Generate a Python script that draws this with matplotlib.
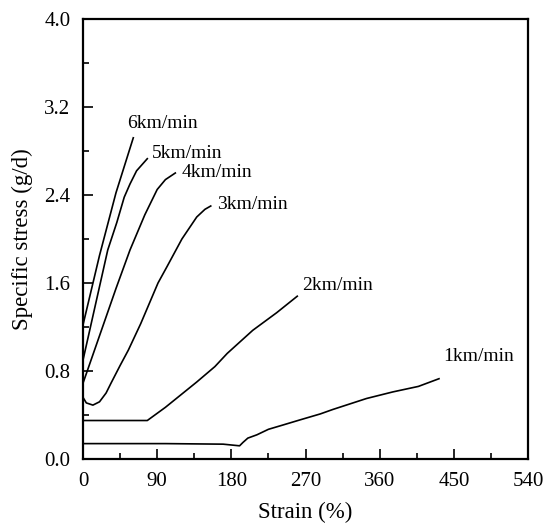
import matplotlib
matplotlib.use("Agg")
import matplotlib.pyplot as plt
from matplotlib.ticker import MultipleLocator

plt.rcParams['font.family'] = ['Liberation Serif', 'DejaVu Serif']

# strain (%) / specific stress (g/d)
strain_1 = [0, 100, 170, 190, 194, 200, 211, 225, 243, 263, 288, 303, 344, 376, 407, 432]
stress_1 = [0.14, 0.14, 0.135, 0.12, 0.15, 0.19, 0.22, 0.27, 0.31, 0.355, 0.41, 0.45, 0.55, 0.61, 0.66, 0.73]

strain_2 = [0, 78, 100, 138, 160, 175, 206, 235, 260]
stress_2 = [0.35, 0.35, 0.47, 0.70, 0.84, 0.96, 1.17, 1.33, 1.48]

strain_3 = [0, 4, 12, 20, 28, 34, 45, 55, 70, 91, 102, 120, 138, 148, 155]
stress_3 = [0.56, 0.51, 0.49, 0.52, 0.60, 0.69, 0.85, 0.99, 1.23, 1.60, 1.75, 2.00, 2.20, 2.27, 2.30]

strain_4 = [0, 20, 40, 57, 75, 90, 100, 112]
stress_4 = [0.69, 1.12, 1.55, 1.90, 2.22, 2.45, 2.54, 2.60]

strain_5 = [0, 15, 30, 41, 50, 57, 65, 78]
stress_5 = [0.90, 1.40, 1.90, 2.15, 2.38, 2.50, 2.62, 2.73]

strain_6 = [0, 20, 40, 61]
stress_6 = [1.22, 1.85, 2.42, 2.92]

labels = ["1km/min", "2km/min", "3km/min", "4km/min", "5km/min", "6km/min"]
label_x = [437, 266, 163, 120, 84, 53]
label_y = [0.93, 1.58, 2.31, 2.60, 2.78, 3.05]

fig = plt.figure(figsize=(5.52, 5.29), dpi=100)
ax = fig.add_axes([0.1504, 0.1323, 0.8061, 0.8318])

curves = [(strain_1, stress_1), (strain_2, stress_2), (strain_3, stress_3),
          (strain_4, stress_4), (strain_5, stress_5), (strain_6, stress_6)]
for (x, y) in curves:
    ax.plot(x, y, color='black', lw=1.2)

for txt, tx, ty in zip(labels, label_x, label_y):
    ax.text(tx, ty, txt, fontsize=14, ha='left', va='center')

ax.set_xlim(0, 540)
ax.set_ylim(0, 4.0)
ax.xaxis.set_major_locator(MultipleLocator(90))
ax.xaxis.set_minor_locator(MultipleLocator(45))
ax.yaxis.set_major_locator(MultipleLocator(0.8))
ax.yaxis.set_minor_locator(MultipleLocator(0.4))
ax.yaxis.set_major_formatter(plt.FormatStrFormatter('%.1f'))
ax.tick_params(which='both', direction='in', width=1.2, labelsize=15)
ax.tick_params(axis='x', pad=9)
ax.tick_params(axis='y', pad=9)
ax.tick_params(which='major', length=7)
ax.tick_params(which='minor', length=4)
for sp in ax.spines.values():
    sp.set_linewidth(1.6)

ax.set_xlabel("Strain (%)", fontsize=16.5, labelpad=8)
ax.set_ylabel("Specific stress (g/d)", fontsize=16.5, labelpad=8)

fig.savefig("out.png", dpi=100)
